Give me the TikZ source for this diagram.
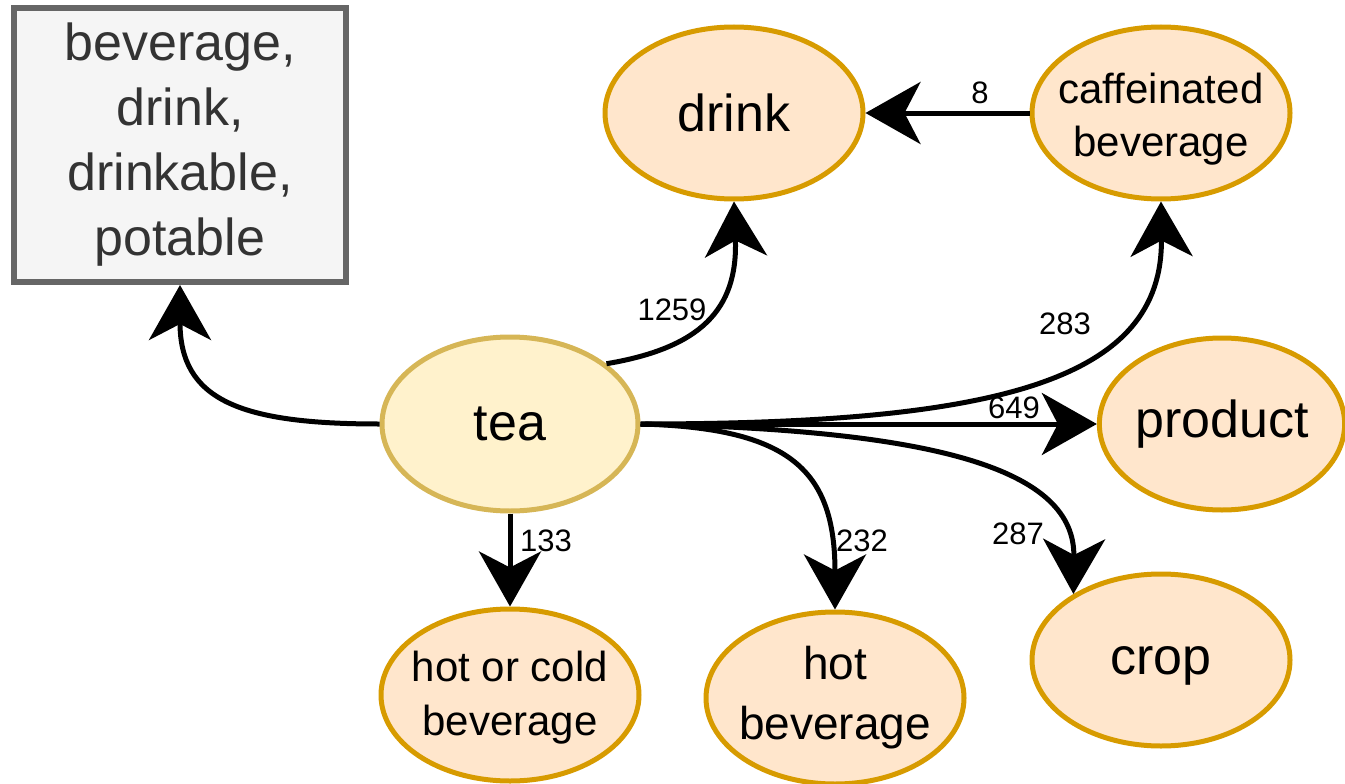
\documentclass[tikz,border=0pt]{standalone}
\usepackage{fontspec}
\setmainfont{Liberation Sans}
\usetikzlibrary{shapes.geometric,arrows.meta}
\definecolor{boxfill}{HTML}{F5F5F5}
\definecolor{boxline}{HTML}{666666}
\definecolor{boxtext}{HTML}{333333}
\definecolor{teafill}{HTML}{FFF2CC}
\definecolor{tealine}{HTML}{D6B656}
\definecolor{termfill}{HTML}{FFE6CC}
\definecolor{termline}{HTML}{D79B00}
\tikzset{
  synset/.style={draw=boxline, fill=boxfill, line width=6pt, text=boxtext,
    minimum width=332pt, minimum height=274pt, inner sep=0pt, align=center,
    font=\fontsize{52}{65}\selectfont},
  root/.style={ellipse, draw=tealine, fill=teafill, line width=5pt, inner sep=0pt,
    minimum width=256pt, minimum height=174pt, font=\fontsize{52}{60}\selectfont},
  term/.style={ellipse, draw=termline, fill=termfill, line width=5pt, inner sep=0pt,
    minimum width=258pt, minimum height=172pt},
  big/.style={font=\fontsize{52}{60}\selectfont},
  small/.style={font=\fontsize{42}{53}\selectfont, align=center},
  link/.style={line width=5pt, -{Stealth[length=55pt, width=62pt, inset=16pt]}},
  count/.style={font=\fontsize{31}{36}\selectfont, inner sep=0pt}
}
\begin{document}
\begin{tikzpicture}[x=1pt, y=-1pt]
\useasboundingbox (0,0) rectangle (1345,784);
% nodes
\node[synset] (syn) at (180,145) {beverage,\\drink,\\drinkable,\\potable};
\node[root] (tea) at (510,424) {tea};
\node[term, big] (drink) at (734,113) {drink};
\node[term, label={[small, yshift=-6pt]center:caffeinated\\beverage}] (caff) at (1161,113) {};
\node[term, big, minimum width=244pt] (product) at (1222,424) {product};
\node[term, label={[small, font=\fontsize{42}{54}\selectfont, yshift=-3pt]center:hot or cold\\beverage}] (hotcold) at (510,695) {};
\node[term, label={[small, font=\fontsize{46}{60}\selectfont]center:hot\\beverage}] (hot) at (835,698) {};
\node[term, label={[big, yshift=-6pt]center:crop}] (crop) at (1161,660) {};
% connectors
\draw[link] (tea.west) .. controls (240,424) and (180,400) .. (syn.south);
\draw[link] (tea.32) .. controls (700,348) and (738,310) .. (drink.south);
\draw[link] (tea.east) .. controls (1000,424) and (1163,380) .. (caff.south);
\draw[link] (tea.east) -- (product.west);
\draw[link] (tea.south) -- (hotcold.north);
\draw[link] (tea.east) .. controls (790,428) and (835,470) .. (hot.north);
\draw[link] (tea.east) .. controls (940,430) and (1075,470) .. (crop.143);
\draw[link] (caff.west) -- (drink.east);
% counts
\node[count] (n1259) at (672,310) {1259};
\node[count] (n283) at (1065,324) {283};
\node[count] (n649) at (1014,408) {649};
\node[count] (n133) at (546,541) {133};
\node[count] (n232) at (862,541) {232};
\node[count] (n287) at (1018,534) {287};
\node[count] (n8) at (980,93) {8};
\end{tikzpicture}
\end{document}
